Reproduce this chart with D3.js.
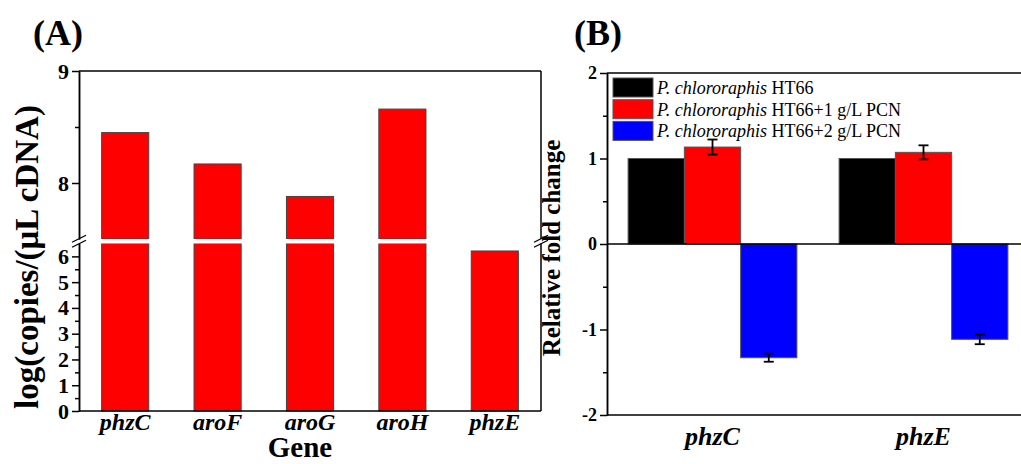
<!DOCTYPE html>
<html>
<head>
<meta charset="utf-8">
<script src="https://cdn.jsdelivr.net/npm/d3@7"></script>
<style>
  body { margin: 0; background: #fff; }
  svg text { font-family: "Liberation Serif", "Times New Roman", serif; }
  .axis path, .axis line { stroke: #000; stroke-width: 1.5; }
</style>
</head>
<body>
<svg id="chart" width="1021" height="464"></svg>
<script>
// panel A: absolute copies
var genesA = ["phzC", "aroF", "aroG", "aroH", "phzE"];
var copiesA = [8.45, 8.17, 7.88, 8.66, 6.21];
var ticksUpper = [8, 9], minorUpper = [8.5];
var ticksLower = [0, 1, 2, 3, 4, 5, 6], minorLower = [0.5, 1.5, 2.5, 3.5, 4.5, 5.5];

// panel B: relative fold change
var genesB = ["phzC", "phzE"];
var seriesB = ["HT66", "HT66+1 g/L PCN", "HT66+2 g/L PCN"];
var foldB = { "phzC": [1.0, 1.134, -1.33], "phzE": [1.0, 1.072, -1.115] };
var errB = { "phzC": [0, 0.088, 0.047], "phzE": [0, 0.082, 0.057] };
var colorsB = ["#000000", "#ff0000", "#0000ff"];
var ticksB = [-2, -1, 0, 1, 2], minorB = [-1.5, -0.5, 0.5, 1.5];

var svg = d3.select("#chart");

// styles the tick labels of an axis group
function styleAxis(g, size) {
  g.selectAll("text")
   .style("font-family", "'Liberation Serif', 'Times New Roman', serif")
   .style("font-size", size + "px").style("font-weight", "bold")
   .attr("fill", "#000");
}

// ---------- panel A ----------
var a = {left: 79, right: 541, top: 71, bottom: 411, gapTop: 239, gapBot: 243.5};

var xA = d3.scaleBand().domain(genesA).range([a.left, a.right])
    .paddingInner(0.49).paddingOuter(0.245);
var yUp = d3.scaleLinear().domain([7.5, 9]).range([a.gapTop, a.top]);
var yLo = d3.scaleLinear().domain([0, 6.5]).range([a.bottom, a.gapBot]);

var gA = svg.append("g");

// bars, cut at the break
gA.selectAll(".barLo").data(copiesA).enter().append("rect")
  .attr("x", function(d, i) { return xA(genesA[i]); })
  .attr("width", xA.bandwidth())
  .attr("y", function(d) { return d > 6.5 ? a.gapBot : yLo(d); })
  .attr("height", function(d) { return a.bottom - (d > 6.5 ? a.gapBot : yLo(d)); })
  .attr("fill", "#ff0000").attr("stroke", "#444").attr("stroke-width", 1);

gA.selectAll(".barUp").data(copiesA.filter(function(d) { return d > 7.5; })).enter().append("rect")
  .attr("x", function(d) { return xA(genesA[copiesA.indexOf(d)]); })
  .attr("width", xA.bandwidth())
  .attr("y", function(d) { return yUp(d); })
  .attr("height", function(d) { return a.gapTop - yUp(d); })
  .attr("fill", "#ff0000").attr("stroke", "#444").attr("stroke-width", 1);

// white gap over the bars
gA.append("rect").attr("x", a.left + 2).attr("width", a.right - a.left - 4)
  .attr("y", a.gapTop).attr("height", a.gapBot - a.gapTop).attr("fill", "#fff");

// axes
gA.append("g").attr("class", "axis").attr("transform", "translate(" + a.left + ",0)")
  .call(d3.axisLeft(yUp).tickValues(ticksUpper).tickSize(7).tickSizeOuter(0).tickFormat(d3.format("d")))
  .call(styleAxis, 22);
gA.append("g").attr("class", "axis").attr("transform", "translate(" + a.left + ",0)")
  .call(d3.axisLeft(yUp).tickValues(minorUpper).tickSize(4).tickSizeOuter(0).tickFormat(""));
gA.append("g").attr("class", "axis").attr("transform", "translate(" + a.left + ",0)")
  .call(d3.axisLeft(yLo).tickValues(ticksLower).tickSize(7).tickSizeOuter(0).tickFormat(d3.format("d")))
  .call(styleAxis, 22);
gA.append("g").attr("class", "axis").attr("transform", "translate(" + a.left + ",0)")
  .call(d3.axisLeft(yLo).tickValues(minorLower).tickSize(4).tickSizeOuter(0).tickFormat(""));

// right edge with same break, top and bottom lines
gA.append("line").attr("x1", a.right).attr("x2", a.right).attr("y1", a.top).attr("y2", a.gapTop)
  .attr("stroke", "#000").attr("stroke-width", 1.5);
gA.append("line").attr("x1", a.right).attr("x2", a.right).attr("y1", a.gapBot).attr("y2", a.bottom)
  .attr("stroke", "#000").attr("stroke-width", 1.5);
gA.append("line").attr("x1", a.left).attr("x2", a.right).attr("y1", a.top).attr("y2", a.top)
  .attr("stroke", "#000").attr("stroke-width", 1.5);
gA.append("line").attr("x1", a.left).attr("x2", a.right).attr("y1", a.bottom).attr("y2", a.bottom)
  .attr("stroke", "#000").attr("stroke-width", 1.5);

// break marks
[a.left, a.right].forEach(function(x) {
  [-2.5, 2.5].forEach(function(off) {
    var yc = (a.gapTop + a.gapBot) / 2 + off;
    gA.append("line").attr("x1", x - 7).attr("y1", yc + 3.5).attr("x2", x + 7).attr("y2", yc - 3.5)
      .attr("stroke", "#000").attr("stroke-width", 1.3);
  });
});

// x labels
gA.selectAll(".xlab").data(genesA).enter().append("text")
  .attr("x", function(d) { return xA(d) + xA.bandwidth() / 2; })
  .attr("y", 430).attr("text-anchor", "middle")
  .style("font-size", "24px").style("font-weight", "bold").style("font-style", "italic")
  .text(function(d) { return d; });

gA.append("text").attr("x", 300).attr("y", 457).attr("text-anchor", "middle")
  .style("font-size", "29px").style("font-weight", "bold").text("Gene");

gA.append("text").attr("transform", "translate(38,257) rotate(-90)").attr("text-anchor", "middle")
  .style("font-size", "33px").style("font-weight", "bold").text("log(copies/(\u03BCL cDNA)");

gA.append("text").attr("x", 33).attr("y", 45)
  .style("font-size", "36px").style("font-weight", "bold").text("(A)");

// ---------- panel B ----------
var b = {left: 607, right: 1029, top: 73, bottom: 415};

var xB = d3.scaleBand().domain(genesB).range([b.left, b.right])
    .paddingInner(0.2).paddingOuter(0.1);
var xSub = d3.scaleBand().domain(seriesB).range([0, xB.bandwidth()]);
var yB = d3.scaleLinear().domain([-2, 2]).range([b.bottom, b.top]);

var gB = svg.append("g");

var groups = gB.selectAll(".grp").data(genesB).enter().append("g")
  .attr("transform", function(d) { return "translate(" + xB(d) + ",0)"; });

groups.selectAll("rect").data(function(g) {
    return seriesB.map(function(s, i) { return {s: s, v: foldB[g][i], e: errB[g][i], c: colorsB[i]}; });
  }).enter().append("rect")
  .attr("x", function(d) { return xSub(d.s); })
  .attr("width", xSub.bandwidth())
  .attr("y", function(d) { return yB(Math.max(0, d.v)); })
  .attr("height", function(d) { return Math.abs(yB(d.v) - yB(0)); })
  .attr("fill", function(d) { return d.c; })
  .attr("stroke", "#555").attr("stroke-width", 1);

// error bars
var eb = groups.selectAll(".err").data(function(g) {
    return seriesB.map(function(s, i) { return {s: s, v: foldB[g][i], e: errB[g][i]}; })
      .filter(function(d) { return d.e > 0; });
  }).enter().append("g")
  .attr("transform", function(d) { return "translate(" + (xSub(d.s) + xSub.bandwidth() / 2) + ",0)"; });
eb.append("line").attr("x1", 0).attr("x2", 0)
  .attr("y1", function(d) { return yB(d.v + d.e); }).attr("y2", function(d) { return yB(d.v - d.e); })
  .attr("stroke", "#000").attr("stroke-width", 1.8);
eb.append("line").attr("x1", -5).attr("x2", 5)
  .attr("y1", function(d) { return yB(d.v + d.e); }).attr("y2", function(d) { return yB(d.v + d.e); })
  .attr("stroke", "#000").attr("stroke-width", 1.8);
eb.append("line").attr("x1", -5).attr("x2", 5)
  .attr("y1", function(d) { return yB(d.v - d.e); }).attr("y2", function(d) { return yB(d.v - d.e); })
  .attr("stroke", "#000").attr("stroke-width", 1.8);

// frame and zero line
[b.top, yB(0), b.bottom].forEach(function(y) {
  gB.append("line").attr("x1", b.left).attr("x2", b.right).attr("y1", y).attr("y2", y)
    .attr("stroke", "#000").attr("stroke-width", 1.5);
});

gB.append("g").attr("class", "axis").attr("transform", "translate(" + b.left + ",0)")
  .call(d3.axisLeft(yB).tickValues(ticksB).tickSize(7).tickSizeOuter(0)
    .tickFormat(function(d) { return d < 0 ? "-" + (-d) : d; }))
  .call(styleAxis, 18);
gB.append("g").attr("class", "axis").attr("transform", "translate(" + b.left + ",0)")
  .call(d3.axisLeft(yB).tickValues(minorB).tickSize(4).tickSizeOuter(0).tickFormat(""));

gB.selectAll(".xlab").data(genesB).enter().append("text")
  .attr("x", function(d) { return xB(d) + xB.bandwidth() / 2; })
  .attr("y", 445).attr("text-anchor", "middle")
  .style("font-size", "26px").style("font-weight", "bold").style("font-style", "italic")
  .text(function(d) { return d; });

gB.append("text").attr("transform", "translate(560,248) rotate(-90)").attr("text-anchor", "middle")
  .style("font-size", "25px").style("font-weight", "bold").text("Relative fold change");

gB.append("text").attr("x", 574).attr("y", 45)
  .style("font-size", "36px").style("font-weight", "bold").text("(B)");

// legend
var leg = gB.selectAll(".leg").data(seriesB).enter().append("g")
  .attr("transform", function(d, i) { return "translate(613," + (78 + i * 21.7) + ")"; });
leg.append("rect").attr("width", 40).attr("height", 19)
  .attr("fill", function(d, i) { return colorsB[i]; }).attr("stroke", "#555").attr("stroke-width", 1);
var lt = leg.append("text").attr("x", 44).attr("y", 16).style("font-size", "18px");
lt.append("tspan").style("font-style", "italic").text("P. chlororaphis ");
lt.append("tspan").text(function(d) { return d; });
</script>
</body>
</html>
